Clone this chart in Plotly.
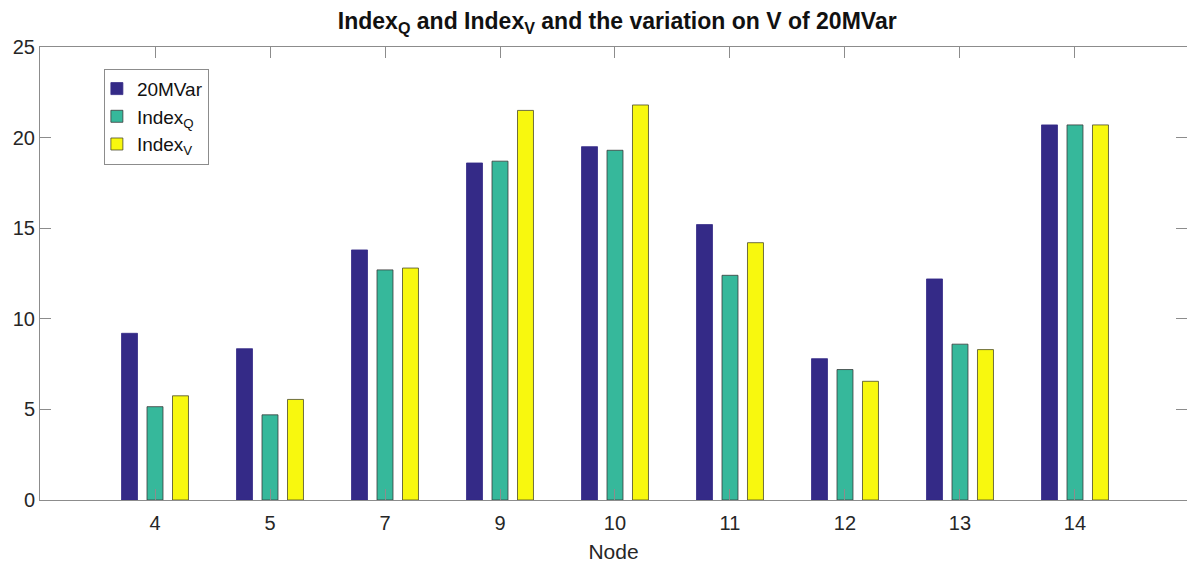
import plotly.graph_objects as go

nodes = ["4", "5", "7", "9", "10", "11", "12", "13", "14"]
mvar20 = [9.2, 8.35, 13.8, 18.6, 19.5, 15.2, 7.8, 12.2, 20.7]
index_q = [5.15, 4.7, 12.7, 18.7, 19.3, 12.4, 7.2, 8.6, 20.7]
index_v = [5.75, 5.55, 12.8, 21.5, 21.8, 14.2, 6.55, 8.3, 20.7]

names = ["20MVar", "Index<sub>Q</sub>", "Index<sub>V</sub>"]
colors = ["#342A87", "#36B89B", "#F8F80E"]
lines = ["#342A87", "#3A3A3A", "#4A4A2A"]

fig = go.Figure()
for vals, nm, c, lc in zip([mvar20, index_q, index_v], names, colors, lines):
    fig.add_trace(go.Bar(x=nodes, y=vals, name=nm, marker=dict(color=c, line=dict(color=lc, width=0.8))))

font = "Liberation Sans, Arial, Helvetica, sans-serif"
axcol = "#8C8C8C"
fig.update_layout(
    width=1187, height=563,
    margin=dict(l=40, r=0, t=47, b=63),
    paper_bgcolor="white", plot_bgcolor="white",
    barmode="group", bargap=0.335, bargroupgap=0.373,
    font=dict(family=font, size=20, color="#262626"),
    title=dict(text="<b>Index<sub>Q</sub> and Index<sub>V</sub> and the variation on V of 20MVar</b>",
               x=0.52, xanchor="center", y=0.962, yanchor="middle", automargin=False,
               font=dict(family=font, size=23, color="#111111")),
    legend=dict(x=0.0557, y=0.952, xanchor="left", yanchor="top",
                bgcolor="white", bordercolor=axcol, borderwidth=1,
                font=dict(size=19, color="#111111"), tracegroupgap=0,
                itemwidth=30, indentation=-8,
                itemclick=False),
    xaxis=dict(type="category", range=[-1, 8.974], showgrid=False, automargin=False,
               showline=True, linecolor=axcol, linewidth=1, mirror="ticks",
               ticks="inside", ticklen=11, tickcolor=axcol, ticklabelstandoff=5,
               title=dict(text="Node", font=dict(size=21, color="#262626"), standoff=12),
               tickfont=dict(size=20)),
    yaxis=dict(range=[0, 25], dtick=5, showgrid=False, zeroline=False, automargin=False,
               showline=True, linecolor=axcol, linewidth=1, mirror="ticks",
               ticks="inside", ticklen=11, tickcolor=axcol,
               tickfont=dict(size=20)),
)

fig.write_html("out.html", config={"displayModeBar": False},
               post_script="document.body.style.margin='0';document.body.style.overflow='hidden';")
